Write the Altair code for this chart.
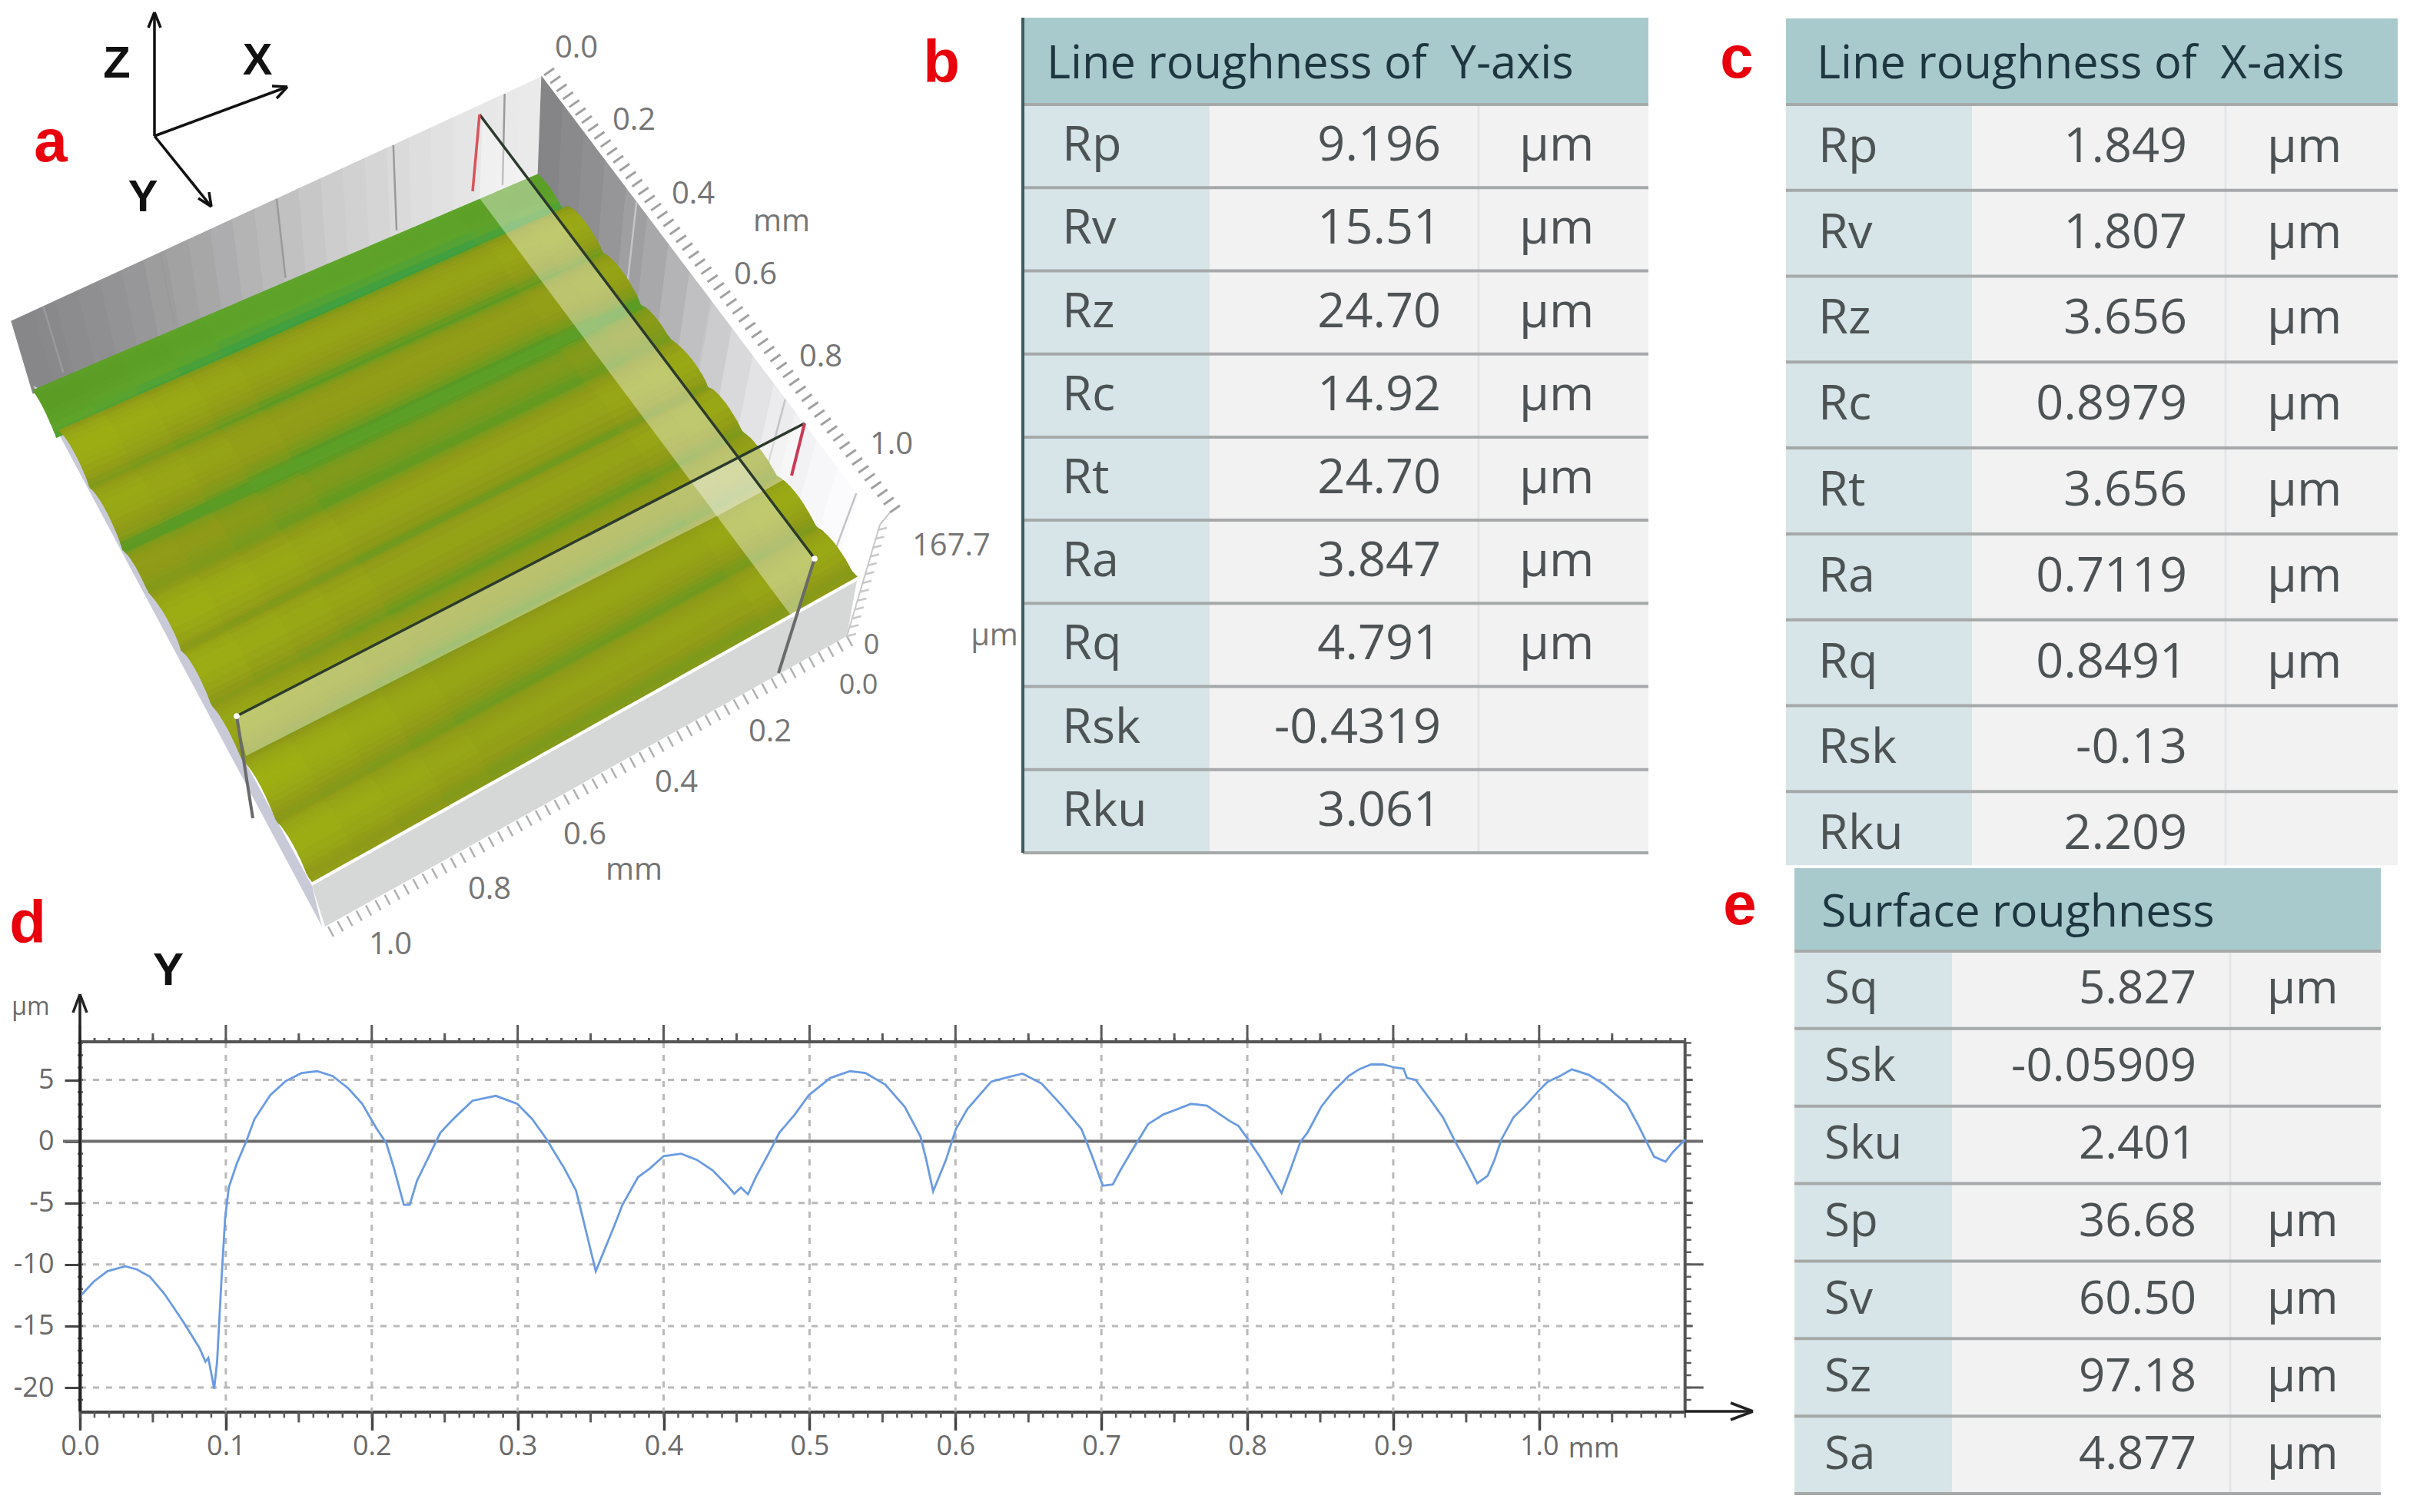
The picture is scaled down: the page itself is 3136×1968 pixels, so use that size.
import altair as alt

# ---------- data: profile (panel d) ----------
profile_mm = [0,.0094,.0188,.031,.039,.048,.058,.071,.082,.086,.088,.092,.094,.097,.0995,.102,.1075,.114,.1196,.1304,.141,.152,.1626,.1733,.184,.1935,.203,.21,.215,.222,.226,.231,.238,.247,.257,.269,.285,.2997,.31,.32,.325,.332,.34,.345,.3535,
 .3664,.3718,.3825,.3906,.4,.412,.4228,.4336,.443,.4484,.453,.4578,.4632,.4726,.4793,.49,.4995,.5142,.5277,.5384,.552,.5653,.576,.58,.5847,.5935,.6003,.6083,.6245,.6352,.646,.659,.673,.6863,.693,.701,.7078,.713,.7212,.732,.7427,.7615,.7723,.788,
 .794,.8024,.8094,.8165,.8235,.8294,.8365,.8412,.8506,.8588,.8694,.8765,.8847,.893,.9012,.9071,.9094,.9153,.9247,.9341,.9424,.9494,.9576,.9647,.9694,.9741,.9824,.9906,1.0,1.0059,1.0141,1.0224,1.0341,1.0447,1.06,1.0682,1.0741,1.0788,1.0866,1.0918,1.1]
profile_um = [-12.6,-11.4,-10.55,-10.15,-10.4,-11.0,-12.4,-14.7,-16.8,-17.9,-17.6,-20.1,-17.9,-11.25,-6.25,-3.75,-1.8,0,1.8,3.75,4.9,5.55,5.7,5.3,4.3,3.05,1.1,-.15,-2.1,-5.15,-5.15,-3.2,-1.5,.7,1.95,3.3,3.7,3.05,1.8,.15,-.85,-2.2,-4.0,-6.4,-10.55,
 -6.8,-5.15,-2.9,-2.2,-1.2,-1,-1.5,-2.35,-3.5,-4.25,-3.75,-4.3,-2.9,-.85,.7,2.2,3.75,5.15,5.7,5.55,4.6,2.8,.4,-1.5,-4.05,-1.5,1,2.65,4.85,5.2,5.5,4.7,2.9,1,-1,-3.6,-3.5,-2.35,-.7,1.4,2.2,3.05,2.9,1.65,
 1.25,-.15,-1.4,-2.8,-4.2,-2.35,0,.7,2.8,4.05,5.3,5.85,6.25,6.25,6.0,5.9,5.15,5.0,3.5,1.95,0,-1.5,-3.4,-2.8,-1.5,.15,1.95,2.9,4.15,4.85,5.3,5.85,5.4,4.6,3.05,1.25,-.15,-1.25,-1.65,-.85,.15]
x_major = [0,.1,.2,.3,.4,.5,.6,.7,.8,.9,1.0]
y_major = [5,0,-5,-10,-15,-20]
x_grid = [.1,.2,.3,.4,.5,.6,.7,.8,.9,1.0]
y_grid = [5,-5,-10,-15,-20]
x_fine = [i/100 for i in range(0,111)]
x_half = [i/100 for i in range(5,111,10)]
y_fine = list(range(-21,9))

# ---------- data: tables ----------
names_b = ["Rp","Rv","Rz","Rc","Rt","Ra","Rq","Rsk","Rku"]
values_b = ["9.196","15.51","24.70","14.92","24.70","3.847","4.791","-0.4319","3.061"]
values_c = ["1.849","1.807","3.656","0.8979","3.656","0.7119","0.8491","-0.13","2.209"]
units_r = ["µm"]*7+["",""]
names_e = ["Sq","Ssk","Sku","Sp","Sv","Sz","Sa"]
values_e = ["5.827","-0.05909","2.401","36.68","60.50","97.18","4.877"]
units_e = ["µm","","","µm","µm","µm","µm"]

# ---------- data: panel a ----------
across_tilt = [4,3,2,1,0,0,0,0,0,0,1,2]
back_shades = [.02,.04,.07,.1,.14,.18,.23,.28,.33,.39,.45,.51,.57,.63,.68,.72,.76,.8,.84,.87,.9,.92,.94,.95]
side_shades = [0,.04,.09,.15,.22,.3,.4,.5,.6,.7,.78,.85,.9,.94,.97,1]
mm_labels = [0,.2,.4,.6,.8,1.0]

W, H = 3120, 1952
PX = alt.Scale(domain=[8, 8+W], range=[0, W])
PY = alt.Scale(domain=[8, 8+H], range=[0, H])
MM = alt.Scale(domain=[0, 1.1], range=[96, 2184.7])
UM = alt.Scale(domain=[8.09, -21.96], range=[1348, 1829.4])
V = lambda p: alt.value(p-8)
SANS = "Open Sans"

def txt(rows, size, color, weight="normal", align="center", font=SANS):
    d = [{"t":t,"x":x,"y":y} for t,x,y in rows]
    return alt.Chart(alt.Data(values=d)).mark_text(fontSize=size, color=color, fontWeight=weight, align=align,
        baseline="middle", font=font).encode(
        x=alt.X("x:Q", scale=PX, axis=None), y=alt.Y("y:Q", scale=PY, axis=None), text="t:N")

def seg(rows, color, width, dash=None, op=1):
    d = [{"x":a,"y":b,"x2":c,"y2":e} for a,b,c,e in rows]
    kw = dict(color=color, strokeWidth=width, opacity=op)
    if dash: kw["strokeDash"]=dash
    return alt.Chart(alt.Data(values=d)).mark_rule(**kw).encode(
        x=alt.X("x:Q", scale=PX, axis=None), y=alt.Y("y:Q", scale=PY, axis=None), x2="x2:Q", y2="y2:Q")

def poly(pts, **props):
    ring = [list(p) for p in pts]+[list(pts[0])]
    return {"type":"Feature","properties":props,"geometry":{"type":"Polygon","coordinates":[ring]}}

def flat(features, color, op=1):
    return alt.Chart(alt.Data(values=features)).mark_geoshape(fill=color, opacity=op, strokeWidth=0).project(
        type="identity", scale=1, translate=[-8,-8])

def shaded(features, field, dom, rng):
    sc = alt.Scale(domain=dom, range=rng)
    return alt.Chart(alt.Data(values=features)).mark_geoshape(strokeWidth=1.2).encode(
        color=alt.Color(field, scale=sc, legend=None),
        stroke=alt.Stroke(field, scale=sc, legend=None)).project(
        type="identity", scale=1, translate=[-8,-8])

def lerp(a,b,t): return (a[0]+(b[0]-a[0])*t, a[1]+(b[1]-a[1])*t)
A,B,C,D = (43,502),(700,221),(1115,756),(406,1153)
A2,B2,C2 = (43,512),(700,233),(1115,766)
def surf(u,v,h):
    p = lerp(lerp(A,B,u), lerp(D,C,u), v)
    return (p[0], p[1]-0.9*(h+6))

layers = []
# walls
TB0,TB1=(15,418),(705,100)
n=len(back_shades)
f=[]
for i,s in enumerate(back_shades):
    f.append(poly([lerp(TB0,TB1,i/n),lerp(TB0,TB1,(i+1)/n),lerp(A2,B2,(i+1)/n),lerp(A2,B2,i/n)],s=s))
layers.append(shaded(f,"properties.s:Q",[0,1],["#858587","#f0f0f0"]))
TS1=(1145,683)
n=len(side_shades)
f=[]
for i,s in enumerate(side_shades):
    f.append(poly([lerp(TB1,TS1,i/n),lerp(TB1,TS1,(i+1)/n),lerp(B2,C2,(i+1)/n),lerp(B2,C2,i/n)],s=s))
layers.append(shaded(f,"properties.s:Q",[0,1],["#858587","#ffffff"]))
# wall grid lines
wall=[]
for t in [.06,.28,.5,.72,.93]:
    a=lerp(TB0,TB1,t); b=lerp(A,B,t); wall.append((a[0],a[1],b[0],b[1]))
layers.append(seg(wall,"#9a9a9c",2.5))
wall=[]
for t in [.28,.5,.72,.93]:
    a=lerp(TB1,TS1,t); b=lerp(B,C,t); wall.append((a[0],a[1],b[0],b[1]))
layers.append(seg(wall,"#c4c4c6",2.5))
# floor slivers
layers.append(flat([poly([D,C,(1102,828),(423,1206)])],"#d6d7d7"))
layers.append(flat([poly([A,(419,1206),(406,1153),(60,510)])],"#c9cad8"))
# surface driven by the profile
f=[]
nc=len(across_tilt)
for i in range(len(profile_mm)-1):
    v0,v1=profile_mm[i]/1.1,profile_mm[i+1]/1.1
    h0,h1=profile_um[i],profile_um[i+1]
    for c,t in enumerate(across_tilt):
        u0,u1=c/nc,(c+1)/nc
        f.append(poly([surf(u0,v0,h0),surf(u1,v0,h0),surf(u1,v1,h1),surf(u0,v1,h1)],h=(h0+h1)/2+t))
layers.append(shaded(f,"properties.h:Q",[-20,-12,-5,-2,2,6],["#1f9a50","#5fa42a","#5a9a24","#7b9a1c","#8f9a18","#96a416"]))
# section planes and lines
layers.append(flat([poly([(628,153),(1060,727),(1033,806),(624,258)])],"#ffffff",.38))
layers.append(flat([poly([(1047,551),(308,932),(320,984),(940,668),(1030,619)])],"#ffffff",.38))
layers.append(seg([(624,149,1060,727)],"#2b3a2c",3.5))
layers.append(seg([(1047,551,308,932)],"#2b3a2c",3.5))
layers.append(seg([(615,249,624,149)],"#d9535a",3.5))
layers.append(seg([(1047,551,1030,619)],"#c93a55",4))
layers.append(seg([(1060,727,1013,876)],"#6a6a6a",4))
layers.append(seg([(308,932,329,1065)],"#6a6a6a",4))
layers.append(alt.Chart(alt.Data(values=[{"x":1060,"y":727},{"x":308,"y":932}])).mark_point(filled=True,color="white",size=60,opacity=1).encode(
    x=alt.X("x:Q",scale=PX,axis=None),y=alt.Y("y:Q",scale=PY,axis=None)))
# 3D axis ticks
RT0,RT1=(708,98),(1158,667)
FT0,FT1=(1102,828),(427,1206)
tick_r,tick_R,tick_f,tick_F=[],[],[],[]
for i in range(0,56):
    t=i/55
    a=lerp(RT0,RT1,t); (tick_R if i%10==0 else tick_r).append((a[0],a[1],a[0]+13,a[1]-9))
    a=lerp(FT0,FT1,t); (tick_F if i%10==0 else tick_f).append((a[0],a[1],a[0]+7,a[1]+13))
layers.append(seg(tick_r,"#a0a0a0",3)); layers.append(seg(tick_R,"#a0a0a0",3))
layers.append(seg(tick_f,"#b0b0b0",2.5)); layers.append(seg(tick_F,"#b0b0b0",2.5))
zt=[]
for i in range(0,13):
    a=lerp((1142,690),(1102,828),i/12); zt.append((a[0],a[1],a[0]+12,a[1]-3))
layers.append(seg(zt,"#c8c8c8",2.5))
layers.append(seg([(RT1[0],RT1[1],1145,683),(1145,683,1102,828)],"#c8c8c8",2))
rows=[]
for m,(xo,yo) in zip(mm_labels,[(750,63),(825,157),(902,253),(983,358),(1068,465),(1160,579)]):
    rows.append((f"{m:.1f}",xo,yo))
for m,(xo,yo) in zip(mm_labels[1:],[(1002,953),(880,1019),(761,1087),(637,1158),(508,1230)]):
    rows.append((f"{m:.1f}",xo,yo))
rows+= [("mm",1017,289),("167.7",1238,711),("µm",1294,828),("mm",825,1133)]
layers.append(txt(rows,40,"#757575"))
layers.append(txt([("0",1134,840),("0.0",1117,892)],36,"#757575"))
# coordinate icon
layers.append(seg([(201,177,201,16),(201,177,374,113),(201,177,275,269),
                   (201,16,193,36),(201,16,209,36),(374,113,354,112),(374,113,360,128),(275,269,258,258),(275,269,272,250)],"#111111",3.5))
layers.append(txt([("Z",152,84),("X",335,80),("Y",186,258)],58,"#111111","bold",font="Liberation Sans"))
layers.append(txt([("a",66,187),("b",1225,84),("c",2260,78),("d",36,1204),("e",2264,1180)],78,"#e8000d","bold",font="Liberation Sans"))

# ---------- tables ----------
def table(names, values, units, header, top, row0, rowN, left, c1, c2, right, xh, xn, xv, xu, size, hsize, border=False, open_end=False):
    n=len(names)
    Y=alt.Scale(domain=[0,n],range=[row0-8,rowN-8])
    step=(rowN-row0)/n
    hdr=(row0-top)/step
    last=n-1+(0.86 if open_end else 1)
    d=[{"r":i,"r2":min(i+1,last),"n":names[i],"v":values[i],"u":units[i]} for i in range(n)]
    data=alt.Data(values=d)
    out=[]
    def band(c,a,b):
        return alt.Chart(data).mark_rect(color=c).encode(x=V(a),x2=V(b),y=alt.Y("r:Q",scale=Y,axis=None),y2="r2:Q")
    out+= [band("#d7e5e8",left,c1),band("#f2f2f3",c1,c2),band("#f2f2f3",c2,right)]
    out.append(alt.Chart(alt.Data(values=[{"r":-hdr,"r2":0}])).mark_rect(color="#a8cacd").encode(
        x=V(left),x2=V(right),y=alt.Y("r:Q",scale=Y,axis=None),y2="r2:Q"))
    out.append(alt.Chart(data).mark_rule(color="#e4e6e6",strokeWidth=3).encode(x=V(c2),y=alt.Y("r:Q",scale=Y,axis=None),y2="r2:Q"))
    out.append(alt.Chart(alt.Data(values=[{"r":i} for i in range(0,n if open_end else n+1)])).mark_rule(color="#a6a9a9",strokeWidth=4).encode(
        x=V(left),x2=V(right),y=alt.Y("r:Q",scale=Y,axis=None)))
    def col(field,xp,al):
        return alt.Chart(data).transform_calculate(m="datum.r+0.5").mark_text(fontSize=size,font=SANS,color="#4d5354",align=al,baseline="middle").encode(
            x=V(xp),y=alt.Y("m:Q",scale=Y,axis=None),text=f"{field}:N")
    out+= [col("n",xn,"left"),col("v",xv,"right"),col("u",xu,"left")]
    out.append(alt.Chart(alt.Data(values=[{"r":-hdr/2,"t":header}])).mark_text(fontSize=hsize,font=SANS,color="#1d3640",align="left",baseline="middle",dy=4).encode(
        x=V(xh),y=alt.Y("r:Q",scale=Y,axis=None),text="t:N"))
    if border:
        out.append(alt.Chart(alt.Data(values=[{"r":-hdr,"r2":n}])).mark_rule(color="#3c5c62",strokeWidth=4).encode(
            x=V(left),y=alt.Y("r:Q",scale=Y,axis=None),y2="r2:Q"))
    return out

NB="\u00a0"
layers+=table(names_b,values_b,units_r,f"Line roughness of{NB} Y-axis",23,136,1110,1331,1574,1924,2145,1362,1382,1875,1977,63,59.5,True)
layers+=table(names_b,values_c,units_r,f"Line roughness of{NB} X-axis",24,136,1142,2324,2566,2896,3120,2364,2366,2846,2950,63,59.5,False,True)
layers+=table(names_e,values_e,units_e,"Surface roughness",1130,1238,1944,2335,2540,2902,3098,2370,2374,2858,2950,60,59)

# ---------- panel d ----------
pdata=alt.Data(values=[{"mm":a,"um":b} for a,b in zip(profile_mm,profile_um)])
def xlist(vals): return alt.Data(values=[{"v":v} for v in vals])
def xrule(vals,y0,y1,color,w,dash=None):
    kw=dict(color=color,strokeWidth=w)
    if dash: kw["strokeDash"]=dash
    return alt.Chart(xlist(vals)).mark_rule(**kw).encode(x=alt.X("v:Q",scale=MM,axis=None),y=V(y0),y2=V(y1))
def yrule(vals,x0,x1,color,w,dash=None):
    kw=dict(color=color,strokeWidth=w)
    if dash: kw["strokeDash"]=dash
    return alt.Chart(xlist(vals)).mark_rule(**kw).encode(y=alt.Y("v:Q",scale=UM,axis=None),x=V(x0),x2=V(x1))

L,R,T,Bt=104,2192.7,1356,1837.4
layers+=[xrule(x_grid,T,Bt,"#b9b9b9",3,[8,9]),yrule(y_grid,L,R,"#b9b9b9",3,[8,9])]
GR="#5a5a5a"
layers+=[xrule(x_fine,Bt,Bt+8,GR,2.5),xrule(x_half,Bt,Bt+14,GR,3),xrule(x_fine,T-5,T,GR,3),xrule(x_half,T-11,T,GR,3),xrule(x_major,T-22,T,GR,3),
         yrule(y_fine,L-3,L+4,GR,2.5),yrule(y_fine,R,R+8,GR,2.5),yrule([-10,-20],R,R+24,GR,3),yrule([5,-5,-15],R,R+10,GR,3)]
layers.append(yrule([8.09],L,R,"#555555",4))
layers.append(xrule([1.1],T,Bt,"#555555",4))
layers.append(yrule([0],82,2216,"#6e6e6e",4))
layers.append(alt.Chart(pdata).mark_line(color="#6a9be2",strokeWidth=2.8).encode(
    x=alt.X("mm:Q",scale=MM,axis=alt.Axis(values=x_major,labelExpr="format(datum.value,'.1f')",title=None,grid=False,domain=True,domainColor="#444444",domainWidth=4,
        tickColor="#444444",tickWidth=3.5,tickSize=24,labelFontSize=36,labelFont=SANS,labelColor="#6a6a6a",labelPadding=4,labelFlush=False,labelOverlap=False,offset=-122.6)),
    y=alt.Y("um:Q",scale=UM,axis=alt.Axis(values=y_major,labelExpr="toString(datum.value)",title=None,grid=False,domain=True,domainColor="#444444",domainWidth=4,
        tickColor="#444444",tickWidth=3,tickSize=20,labelFontSize=36,labelFont=SANS,labelColor="#6a6a6a",labelPadding=14,labelFlush=False,labelOverlap=False,offset=-96))))
layers.append(seg([(104,1837,104,1294),(R,1837,2281,1837),(104,1294,95,1318),(104,1294,113,1318),(2281,1837,2252,1826),(2281,1837,2252,1848)],"#222222",3.5))
layers.append(txt([("mm",2074,1886)],36,"#6a6a6a"))
layers.append(txt([("µm",40,1311)],32,"#6a6a6a"))
layers.append(txt([("Y",219,1264)],60,"#111111","bold",font="Liberation Sans"))

chart=alt.layer(*layers).resolve_scale(x="independent",y="independent",color="independent",stroke="independent").properties(
    width=W,height=H,padding=0,autosize=alt.AutoSizeParams(type="none"),background="white"
).configure_view(stroke=None)
chart.save("out.html",embed_options={"renderer":"svg","actions":False})
